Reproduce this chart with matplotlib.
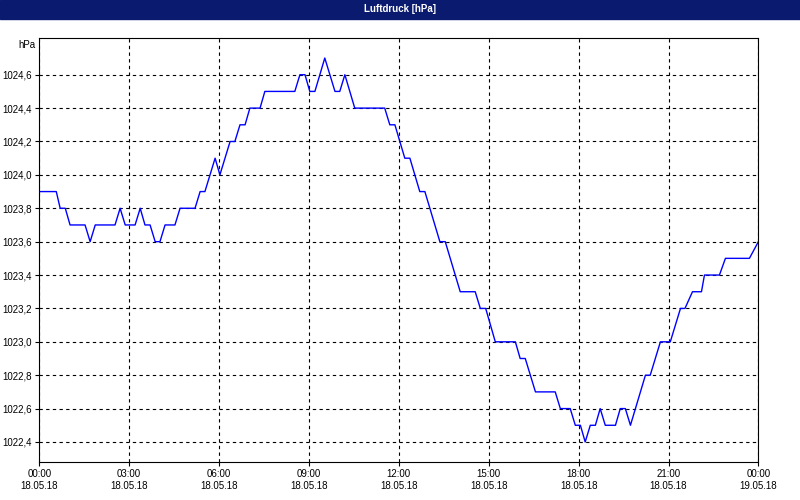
import matplotlib
matplotlib.use("Agg")
import matplotlib.pyplot as plt
import matplotlib.ticker as mticker

plt.rcParams["font.family"] = ["Liberation Sans", "DejaVu Sans"]

# vertices of the pressure curve, hours since 18.05.18 00:00
hours = [0, 0.57, 0.7, 0.87, 1.03, 1.53, 1.7, 1.87, 2.53, 2.7, 2.87, 3.2, 3.37, 3.53, 3.7,
         3.87, 4.03, 4.2, 4.53, 4.7, 5.2, 5.37, 5.53, 5.87, 6.03, 6.37, 6.53, 6.7, 6.87,
         7.03, 7.37, 7.53, 8.53, 8.7, 8.87, 9.03, 9.2, 9.53, 9.87, 10.03, 10.2, 10.53,
         11.53, 11.7, 11.87, 12.2, 12.37, 12.7, 12.87, 13.37, 13.55, 14.05, 14.55, 14.72,
         14.9, 15.22, 15.89, 16.05, 16.22, 16.56, 17.22, 17.39, 17.72, 17.89, 18.06,
         18.22, 18.39, 18.56, 18.72, 18.89, 19.23, 19.39, 19.56, 19.73, 20.23, 20.39,
         20.73, 21.06, 21.4, 21.55, 21.8, 22.1, 22.2, 22.7, 22.9, 23.7, 24.0]
pressure = [1023.9, 1023.9, 1023.8, 1023.8, 1023.7, 1023.7, 1023.6, 1023.7, 1023.7, 1023.8,
            1023.7, 1023.7, 1023.8, 1023.7, 1023.7, 1023.6, 1023.6, 1023.7, 1023.7, 1023.8,
            1023.8, 1023.9, 1023.9, 1024.1, 1024.0, 1024.2, 1024.2, 1024.3, 1024.3, 1024.4,
            1024.4, 1024.5, 1024.5, 1024.6, 1024.6, 1024.5, 1024.5, 1024.7, 1024.5, 1024.5,
            1024.6, 1024.4, 1024.4, 1024.3, 1024.3, 1024.1, 1024.1, 1023.9, 1023.9, 1023.6,
            1023.6, 1023.3, 1023.3, 1023.2, 1023.2, 1023.0, 1023.0, 1022.9, 1022.9, 1022.7,
            1022.7, 1022.6, 1022.6, 1022.5, 1022.5, 1022.4, 1022.5, 1022.5, 1022.6, 1022.5,
            1022.5, 1022.6, 1022.6, 1022.5, 1022.8, 1022.8, 1023.0, 1023.0, 1023.2, 1023.2,
            1023.3, 1023.3, 1023.4, 1023.4, 1023.5, 1023.5, 1023.6]
y_ticks = [1022.4, 1022.6, 1022.8, 1023.0, 1023.2, 1023.4, 1023.6, 1023.8, 1024.0,
           1024.2, 1024.4, 1024.6]
tick_hours = [0, 3, 6, 9, 12, 15, 18, 21, 24]
tick_labels = ["00:00\n18.05.18", "03:00\n18.05.18", "06:00\n18.05.18", "09:00\n18.05.18",
               "12:00\n18.05.18", "15:00\n18.05.18", "18:00\n18.05.18", "21:00\n18.05.18",
               "00:00\n19.05.18"]

fig = plt.figure(figsize=(8, 5), dpi=100, facecolor="white")
# title bar
fig.patches.append(plt.Rectangle((0, 0.962), 1, 0.038, transform=fig.transFigure,
                                 color="#0a1a6e", zorder=0))
fig.text(0.5, 0.981, "Luftdruck [hPa]", color="white", ha="center", va="center",
         fontsize=7, fontweight="bold")

ax = fig.add_axes([0.049, 0.076, 0.899, 0.848])
ax.plot(hours, pressure, color="blue", lw=1)
ax.set_xlim(0, 24)
ax.set_ylim(1022.28, 1024.82)
ax.set_xticks(tick_hours)
ax.set_xticklabels(tick_labels)
ax.set_yticks(y_ticks)
ax.yaxis.set_major_formatter(mticker.FuncFormatter(lambda v, p: f"{v:.1f}".replace(".", ",")))
ax.tick_params(labelsize=7, length=3, pad=2)
ax.grid(True, color="black", ls=(0, (3, 3)), lw=0.8)
ax.text(-0.005, 0.995, "hPa", transform=ax.transAxes, ha="right", va="top", fontsize=7)
for s in ax.spines.values():
    s.set_linewidth(0.8)

fig.savefig("out.png", facecolor=fig.get_facecolor())
